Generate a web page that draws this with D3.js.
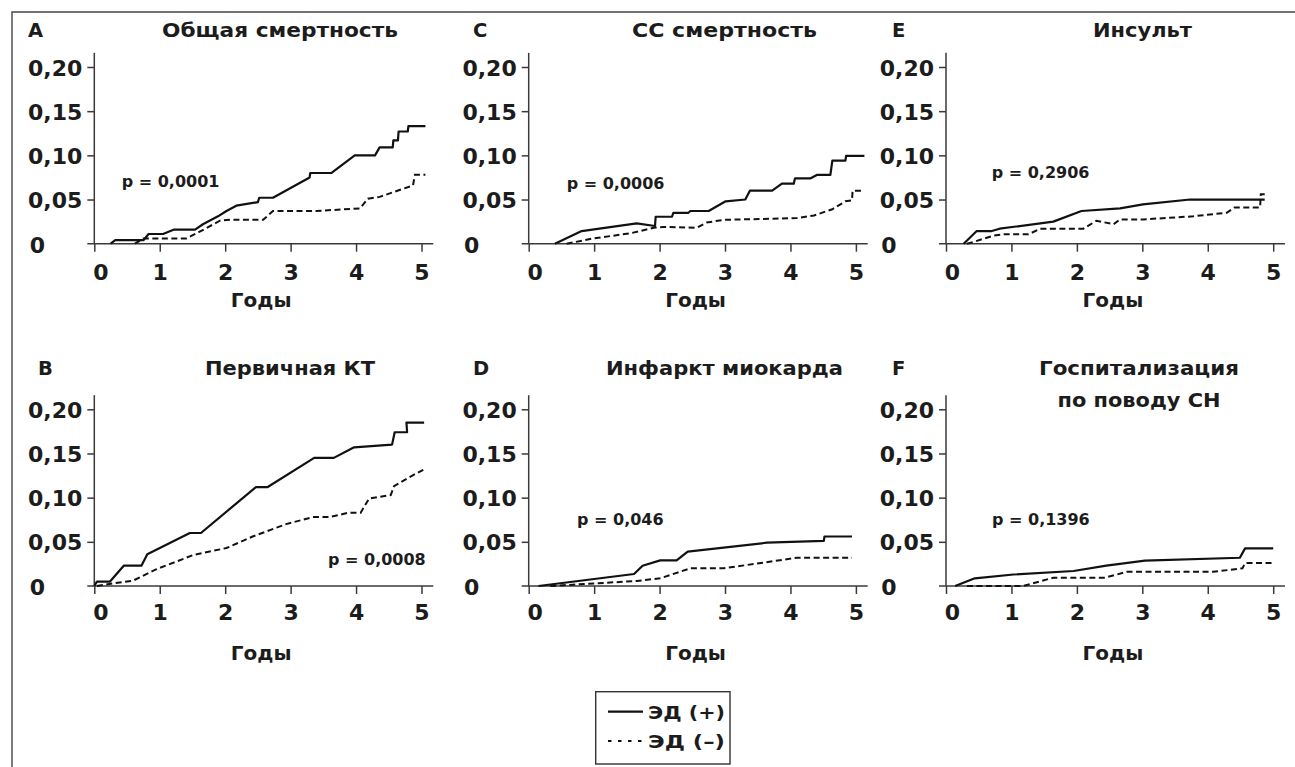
<!DOCTYPE html>
<html><head><meta charset="utf-8">
<script src="https://cdn.jsdelivr.net/npm/d3@7"></script>
<style>
html,body{margin:0;padding:0;background:#fff;}
svg{display:block;}
text{font-family:"DejaVu Sans",sans-serif;font-weight:bold;fill:#1c1c1c;}
</style></head>
<body>
<svg id="chart" width="1295" height="767"></svg>
<script>
// ---- data ----
const panelLetters = ["A","C","E","B","D","F"];
const panelTitles = [["Общая смертность"],["СС смертность"],["Инсульт"],["Первичная КТ"],["Инфаркт миокарда"],["Госпитализация","по поводу СН"]];
const pValues = ["p = 0,0001","p = 0,0006","p = 0,2906","p = 0,0008","p = 0,046","p = 0,1396"];
const xTicks = [0,1,2,3,4,5];
const xTickLabels = ["0","1","2","3","4","5"];
const yTicks = [0,0.05,0.10,0.15,0.20];
const yTickLabels = ["0","0,05","0,10","0,15","0,20"];
const xAxisTitle = "Годы";
const legendLabels = ["ЭД (+)","ЭД (–)"];

const solidA = [[0.25,0],[0.32,0.004],[0.75,0.004],[0.83,0.011],[1.05,0.011],[1.22,0.016],[1.54,0.016],[1.66,0.022],[1.89,0.031],[2.02,0.037],[2.17,0.043],[2.5,0.047],[2.52,0.052],[2.73,0.052],[3.29,0.075],[3.3,0.08],[3.62,0.08],[3.98,0.10],[4.29,0.10],[4.36,0.109],[4.56,0.109],[4.57,0.117],[4.64,0.117],[4.65,0.127],[4.79,0.127],[4.8,0.133],[5.06,0.133]];
const dashA = [[0.62,0],[0.75,0.006],[1.41,0.006],[1.61,0.0136],[1.92,0.026],[2.07,0.027],[2.58,0.027],[2.73,0.037],[3.39,0.037],[4.06,0.040],[4.18,0.051],[4.36,0.053],[4.87,0.066],[4.9,0.078],[5.06,0.078]];
const solidC = [[0.40,0],[0.81,0.0143],[1.65,0.023],[1.93,0.020],[1.94,0.0305],[2.19,0.0305],[2.21,0.035],[2.44,0.035],[2.47,0.037],[2.75,0.037],[3.01,0.048],[3.31,0.050],[3.38,0.060],[3.72,0.060],[3.87,0.068],[4.05,0.068],[4.07,0.074],[4.31,0.074],[4.41,0.078],[4.61,0.078],[4.64,0.094],[4.84,0.094],[4.85,0.0995],[5.13,0.0995]];
const dashC = [[0.58,0],[0.99,0.006],[1.55,0.0117],[1.91,0.018],[2.06,0.019],[2.57,0.018],[2.72,0.024],[2.98,0.027],[4.10,0.029],[4.36,0.032],[4.64,0.039],[4.84,0.048],[4.94,0.049],[4.95,0.060],[5.13,0.060]];
const solidE = [[0.27,0],[0.47,0.0143],[0.70,0.0143],[0.82,0.017],[1.64,0.025],[2.07,0.037],[2.66,0.040],[3.01,0.0445],[3.73,0.050],[4.87,0.050]];
const dashE = [[0.32,0],[0.42,0.002],[0.72,0.009],[0.88,0.0106],[1.26,0.0106],[1.44,0.017],[2.10,0.017],[2.30,0.026],[2.56,0.022],[2.66,0.0275],[3.01,0.0275],[3.78,0.031],[4.29,0.035],[4.41,0.041],[4.80,0.041],[4.81,0.056],[4.87,0.056]];
const solidB = [[0,0],[0.04,0.005],[0.24,0.005],[0.45,0.023],[0.72,0.023],[0.81,0.036],[1.46,0.060],[1.63,0.060],[2.47,0.112],[2.65,0.112],[3.36,0.145],[3.66,0.145],[3.97,0.157],[4.55,0.160],[4.59,0.174],[4.78,0.174],[4.77,0.185],[5.04,0.185]];
const dashB = [[0.04,0],[0.29,0.003],[0.59,0.006],[0.95,0.019],[1.51,0.035],[2.02,0.043],[2.42,0.056],[2.93,0.070],[3.34,0.078],[3.59,0.078],[3.89,0.083],[4.07,0.083],[4.20,0.099],[4.53,0.103],[4.58,0.113],[4.86,0.125],[5.04,0.132]];
const solidD = [[0.15,0],[1.61,0.0136],[1.74,0.023],[2.01,0.029],[2.26,0.029],[2.43,0.039],[3.64,0.049],[4.51,0.051],[4.52,0.056],[4.94,0.056]];
const dashD = [[0.33,0],[1.65,0.0057],[2.01,0.0087],[2.47,0.020],[2.98,0.020],[4.10,0.032],[4.94,0.032]];
const solidF = [[0.14,0],[0.44,0.0087],[1.03,0.013],[1.95,0.017],[2.45,0.023],[3.04,0.0287],[4.49,0.032],[4.57,0.0426],[5.0,0.0426]];
const dashF = [[0.32,0],[1.18,0],[1.64,0.0094],[2.43,0.0094],[2.76,0.016],[4.08,0.016],[4.53,0.020],[4.57,0.026],[5.0,0.026]];

const solidSeries = [solidA, solidC, solidE, solidB, solidD, solidF];
const dashSeries = [dashA, dashC, dashE, dashB, dashD, dashF];

// ---- layout ----
const svg = d3.select("#chart");
const colX = [94.3, 528.7, 946];
const colW = 327.2;
const rows = [{y0:243.7, y20:67, titleBase:36.5, labelBase:280, gBase:306.7},
              {y0:586, y20:409.3, titleBase:374.5, labelBase:620, gBase:660}];
const letterX = [[28,473,892],[38,473,892]];
const titleCX = [[280,724.5,1142.5],[290,724.5,1139]];
const titleW = [[236,185,99],[170,237,[200,163]]];
const pPos = [[121.7,187],[566.7,189],[991.7,178],[328,565],[577,525],[992,525]];
const axisColor = "#3a3a3a";
const inkColor = "#111";

// outer frame
svg.append("path").attr("d","M12,767V12H1295").attr("fill","none").attr("stroke","#444").attr("stroke-width",1.4);

for (let i=0;i<6;i++){
  const col = i%3, r = Math.floor(i/3);
  const R = rows[r];
  const x0 = colX[col];
  const x = d3.scaleLinear().domain([0,5]).range([x0, x0+colW]);
  const y = d3.scaleLinear().domain([0,0.2]).range([R.y0, R.y20]);
  const g = svg.append("g");

  // axis lines
  g.append("line").attr("x1",x0-7).attr("x2",x(5.18)).attr("y1",y(0)).attr("y2",y(0))
    .attr("stroke",axisColor).attr("stroke-width",1.5);
  g.append("line").attr("x1",x0).attr("x2",x0).attr("y1",y(0)).attr("y2",y(0.216))
    .attr("stroke",axisColor).attr("stroke-width",1.5);

  // x axis ticks via d3 axis
  const xa = g.append("g").attr("transform",`translate(0,${y(0)})`)
    .call(d3.axisBottom(x).tickValues(xTicks).tickSize(8).tickFormat((d,k)=>xTickLabels[k]));
  xa.select(".domain").remove();
  xa.selectAll(".tick line").attr("stroke",axisColor).attr("stroke-width",1.5);
  xa.selectAll(".tick text").attr("y",null).attr("dy",null)
    .attr("transform",(d)=>`translate(${d===0?6:0},${R.labelBase-R.y0})`)
    .style("font-size","22px").style("font-family","DejaVu Sans").style("font-weight","bold").attr("fill","#1c1c1c");

  // y axis ticks
  const ya = g.append("g").attr("transform",`translate(${x0},0)`)
    .call(d3.axisLeft(y).tickValues(yTicks.slice(1)).tickSize(7).tickPadding(5)
      .tickFormat(d=>yTickLabels[yTicks.indexOf(d)]));
  ya.select(".domain").remove();
  ya.selectAll(".tick line").attr("stroke",axisColor).attr("stroke-width",1.5);
  ya.selectAll(".tick text").attr("dy",null).attr("y",8)
    .style("font-size","22px").style("font-family","DejaVu Sans").style("font-weight","bold").attr("fill","#1c1c1c");
  // zero label
  g.append("text").attr("x",x0-57).attr("y",y(yTicks[0])+9).attr("text-anchor","middle")
    .style("font-size","22px").text(yTickLabels[0]);

  // axis title
  g.append("text").attr("x",x(2.55)).attr("y",R.gBase).attr("text-anchor","middle")
    .style("font-size","20px").text(xAxisTitle);

  // panel letter
  g.append("text").attr("x",letterX[r][col]).attr("y",R.titleBase).style("font-size","19.5px").text(panelLetters[i]);

  // title
  const lines = panelTitles[i];
  lines.forEach((t,k)=>{
    const w = Array.isArray(titleW[r][col]) ? titleW[r][col][k] : titleW[r][col];
    g.append("text").attr("x",titleCX[r][col]).attr("y",R.titleBase + k*32)
      .attr("text-anchor","middle").style("font-size","19.5px")
      .attr("textLength",w).attr("lengthAdjust","spacingAndGlyphs").text(t);
  });

  // p value
  g.append("text").attr("x",pPos[i][0]).attr("y",pPos[i][1]).style("font-size","16px").text(pValues[i]);

  const line = d3.line().x(d=>x(d[0])).y(d=>y(d[1]));
  g.append("path").datum(dashSeries[i]).attr("d",line).attr("fill","none")
    .attr("stroke",inkColor).attr("stroke-width",2).attr("stroke-dasharray","6,3.5");
  g.append("path").datum(solidSeries[i]).attr("d",line).attr("fill","none")
    .attr("stroke",inkColor).attr("stroke-width",2.2).attr("stroke-linejoin","round");
}

// legend
const lg = svg.append("g");
lg.append("rect").attr("x",595.7).attr("y",691.7).attr("width",134.3).attr("height",72.3)
  .attr("fill","#fff").attr("stroke","#333").attr("stroke-width",1.4);
lg.append("line").attr("x1",608).attr("x2",643).attr("y1",711.7).attr("y2",711.7)
  .attr("stroke",inkColor).attr("stroke-width",2.2);
lg.append("line").attr("x1",608).attr("x2",643).attr("y1",741).attr("y2",741)
  .attr("stroke",inkColor).attr("stroke-width",2.2).attr("stroke-dasharray","3.5,6.5");
lg.append("text").attr("x",648).attr("y",718.5).style("font-size","18px")
  .attr("textLength",77).attr("lengthAdjust","spacingAndGlyphs").text(legendLabels[0]);
lg.append("text").attr("x",648).attr("y",747.5).style("font-size","18px")
  .attr("textLength",77).attr("lengthAdjust","spacingAndGlyphs").text(legendLabels[1]);
</script>
</body></html>
